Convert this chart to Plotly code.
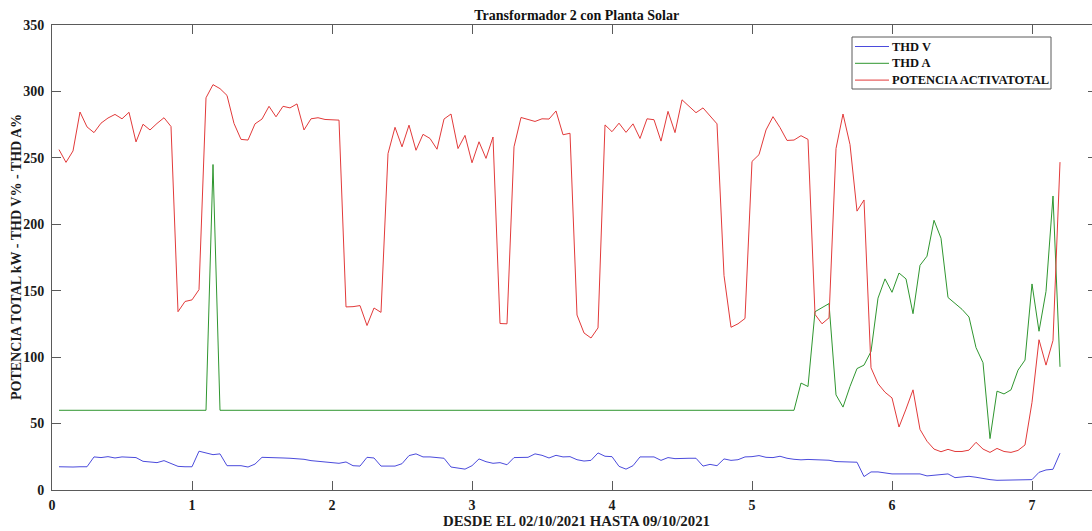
import plotly.graph_objects as go

# ---------------- data ----------------
SAMPLE_STEP_DAYS = 0.05  # spacing between consecutive samples (days)

thd_v = [17.5, 17.3, 17.3, 17.5, 17.5, 24.9, 24.4, 25.1, 24.1, 24.9,
         24.9, 24.4, 21.6, 21.1, 20.6, 22.1, 20.1, 17.8, 17.5, 17.5,
         29.2, 27.9, 26.6, 27.2, 18.3, 18.3, 18.3, 17.3, 19.5, 24.6,
         24.6, 24.4, 24.1, 23.9, 23.6, 23.1, 22.1, 21.6, 20.8, 20.1,
         20.1, 21.1, 18.3, 18.0, 24.6, 24.1, 18.0, 18.0, 18.0, 19.8,
         25.9, 27.2, 24.9, 24.9, 24.4, 23.9, 17.3, 16.5, 15.7, 18.3,
         23.4, 21.3, 20.1, 20.6, 19.0, 24.4, 24.4, 24.6, 27.2, 26.1,
         24.1, 26.1, 24.9, 25.1, 22.8, 21.8, 22.3, 27.9, 25.4, 25.1,
         17.8, 15.7, 18.3, 24.9, 24.9, 24.9, 22.3, 24.4, 23.6, 23.9,
         23.9, 23.9, 18.0, 19.3, 18.3, 23.4, 22.3, 22.8, 24.9, 25.1,
         25.9, 24.6, 24.4, 25.4, 23.9, 23.1, 22.7, 23.0, 22.8, 22.7,
         22.4, 21.4, 21.4, 21.4, 20.9, 10.1, 13.6, 13.6, 12.8, 12.1,
         12.1, 12.1, 12.1, 12.1, 10.6, 11.1, 11.1, 12.1, 9.3, 9.8,
         10.3, 9.6, 8.6, 7.8, 7.3, 7.3, 7.3, 7.6, 7.6, 7.8,
         13.3, 15.1, 15.6, 27.7]

thd_a = [60, 60, 60, 60, 60, 60, 60, 60, 60, 60,
         60, 60, 60, 60, 60, 60, 60, 60, 60, 60,
         60, 60, 245, 60, 60, 60, 60, 60, 60, 60,
         60, 60, 60, 60, 60, 60, 60, 60, 60, 60,
         60, 60, 60, 60, 60, 60, 60, 60, 60, 60,
         60, 60, 60, 60, 60, 60, 60, 60, 60, 60,
         60, 60, 60, 60, 60, 60, 60, 60, 60, 60,
         60, 60, 60, 60, 60, 60, 60, 60, 60, 60,
         60, 60, 60, 60, 60, 60, 60, 60, 60, 60,
         60, 60, 60, 60, 60, 60, 60, 60, 60, 60,
         60, 60, 60, 60, 60, 60, 80.5, 77.9, 134.2, 137.3,
         140.3, 71.6, 62.4, 77.9, 91.4, 94.0, 104.2, 144.4, 158.9, 148.8,
         163.3, 158.9, 132.7, 169.1, 176.0, 203.0, 189.5, 144.9, 140.3, 136.0,
         130.2, 107.2, 95.8, 38.7, 74.4, 72.3, 75.4, 90.2, 97.8, 155.1,
         119.5, 149.5, 221.3, 92.7]

potencia = [256.2, 246.6, 255.2, 284.5, 273.3, 269.0, 276.1, 280.0, 282.7, 279.4,
            284.3, 262.0, 275.3, 271.0, 275.9, 280.2, 273.6, 134.2, 141.9, 143.1,
            150.8, 295.2, 305.1, 302.1, 297.0, 275.9, 263.9, 263.4, 275.6, 279.2,
            288.8, 280.9, 288.8, 287.6, 290.6, 271.0, 279.4, 280.2, 278.9, 278.7,
            278.4, 137.8, 138.0, 138.8, 123.8, 137.0, 133.7, 253.2, 273.0, 258.3,
            274.6, 255.7, 267.7, 264.6, 256.5, 279.2, 283.0, 257.0, 266.9, 246.3,
            262.1, 249.6, 265.7, 125.3, 125.1, 258.3, 280.4, 278.9, 277.4, 279.4,
            279.2, 285.3, 267.4, 268.5, 131.7, 118.2, 114.4, 122.0, 274.8, 269.7,
            276.1, 269.2, 275.6, 264.6, 279.4, 278.7, 262.6, 285.0, 269.0, 293.7,
            288.8, 284.0, 287.6, 281.7, 275.6, 161.5, 122.5, 125.1, 129.1, 247.3,
            252.4, 271.0, 281.0, 272.8, 263.1, 263.4, 266.7, 263.9, 132.2, 125.1,
            129.6, 257.0, 283.0, 260.0, 209.9, 218.3, 92.0, 80.0, 73.6, 69.3,
            47.4, 60.9, 75.4, 45.6, 36.7, 30.8, 28.8, 30.6, 29.0, 29.0,
            30.0, 35.9, 30.8, 28.3, 31.3, 29.0, 28.3, 29.8, 33.9, 66.0,
            113.1, 94.0, 112.6, 246.8]

x_ticks = [0, 1, 2, 3, 4, 5, 6, 7]
y_ticks = [0, 50, 100, 150, 200, 250, 300, 350]

series_names = ["THD V", "THD A", "POTENCIA ACTIVATOTAL"]
series_colors = ["#4b4bdc", "#2f962f", "#e23a3a"]
title_text = "Transformador 2 con Planta Solar"
x_title = "DESDE EL 02/10/2021 HASTA 09/10/2021"
y_title = "POTENCIA TOTAL kW - THD V% - THD A%"

days = [(i + 1) * SAMPLE_STEP_DAYS for i in range(len(potencia))]

# ---------------- figure ----------------
W, H = 1092, 531
ML, MR, MT, MB = 52, 0, 25, 41
plot_w = W - ML - MR
plot_h = H - MT - MB
x_max = plot_w / 140.0  # 140 px per day as in the reference

FONT = "Liberation Serif"
AX = "#5a5a5a"
TXT = "#1a1a1a"


def px_x(px):
    return (px - ML) / plot_w


def px_y(py):
    return (H - MB - py) / plot_h


fig = go.Figure()
for name, vals, col in zip(series_names, [thd_v, thd_a, potencia], series_colors):
    fig.add_trace(go.Scatter(x=days, y=vals, mode="lines", name=name,
                             line=dict(color=col, width=1)))
# helper trace so that the right-hand tick axis is instantiated
fig.add_trace(go.Scatter(x=[], y=[], xaxis="x", yaxis="y2", showlegend=False,
                         hoverinfo="skip"))

# legend drawn as a boxed key (MATLAB-like compact spacing)
shapes = [dict(type="rect", xref="paper", yref="paper",
               x0=px_x(852), x1=px_x(1051), y0=px_y(89), y1=px_y(37),
               line=dict(color=AX, width=1), fillcolor="white", layer="above")]
annotations = []
legend_rows = [46.5, 63.3, 80.1]
for name, col, ry in zip(series_names, series_colors, legend_rows):
    shapes.append(dict(type="line", xref="paper", yref="paper",
                       x0=px_x(855), x1=px_x(889), y0=px_y(ry), y1=px_y(ry),
                       line=dict(color=col, width=1), layer="above"))
    annotations.append(dict(text=name, xref="paper", yref="paper",
                            x=px_x(890), y=px_y(ry), xanchor="left",
                            yanchor="middle", showarrow=False,
                            font=dict(family=FONT, size=12.5, color="#111",
                                      weight="bold")))

annotations += [
    dict(text=x_title, xref="paper", yref="paper", x=px_x(576), y=px_y(521),
         xanchor="center", yanchor="middle", showarrow=False,
         font=dict(family=FONT, size=14.8, color=TXT, weight="bold")),
    dict(text=y_title, xref="paper", yref="paper", x=px_x(16), y=px_y(257),
         xanchor="center", yanchor="middle", showarrow=False, textangle=-90,
         font=dict(family=FONT, size=14, color=TXT, weight="bold")),
]

fig.update_layout(
    width=W, height=H,
    margin=dict(l=ML, r=MR, t=MT, b=MB, pad=0),
    paper_bgcolor="white", plot_bgcolor="white",
    font=dict(family=FONT, size=13, color=TXT),
    showlegend=False,
    title=dict(text=title_text, x=576.7 / W, xanchor="center",
               y=1 - 15 / H, yanchor="middle",
               font=dict(family=FONT, size=14, color="#111", weight="bold")),
    xaxis=dict(range=[0, x_max], tickvals=x_ticks, ticks="inside", ticklen=9,
               tickcolor=AX, tickwidth=1, showline=True, linecolor=AX,
               linewidth=1, mirror="ticks", showgrid=False, zeroline=False,
               tickfont=dict(family=FONT, size=14, color=TXT, weight="bold"),
               ticklabelstandoff=2),
    yaxis=dict(range=[0, 350], tickvals=y_ticks, ticks="inside", ticklen=9,
               tickcolor=AX, tickwidth=1, showline=True, linecolor=AX,
               linewidth=1, mirror=False, showgrid=False, zeroline=False,
               tickfont=dict(family=FONT, size=14, color=TXT, weight="bold"),
               ticklabelstandoff=4),
    yaxis2=dict(range=[0, 350], tickvals=y_ticks, ticks="inside", ticklen=4,
                tickcolor=AX, overlaying="y", side="right", anchor="x",
                showline=False, showgrid=False, zeroline=False,
                showticklabels=False),
    shapes=shapes,
    annotations=annotations,
)

fig.write_html("out.html")
